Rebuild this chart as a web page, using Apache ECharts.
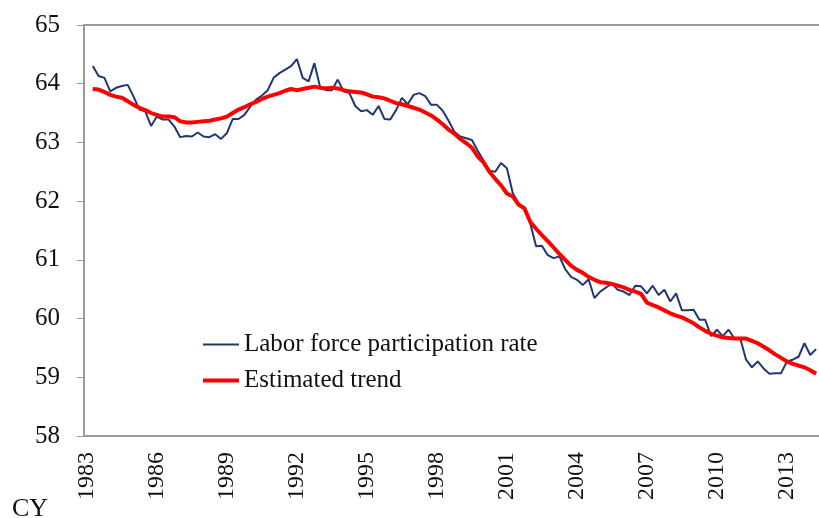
<!DOCTYPE html>
<html>
<head>
<meta charset="utf-8">
<script src="https://cdn.jsdelivr.net/npm/echarts@6/dist/echarts.min.js"></script>
<style>
    html,body{margin:0;padding:0;background:#fff;}
    #chart{width:819px;height:518px;}
</style>
</head>
<body>
<div id="chart"></div>
<script>
/*
 * 労働力率と推計トレンド (四半期)
 */
var startYear=1983;
var endYear=2014;
var lastQuarter=2;

// 1983Q1 は欠測 (1983Q2 から)
var participationRate=[
    null,64.30,64.13,64.10,
    63.87,63.93,63.96,63.98,
    63.78,63.56,63.53,63.28,
    63.44,63.39,63.39,63.27,
    63.09,63.11,63.10,63.17,
    63.10,63.09,63.14,63.06,
    63.16,63.40,63.40,63.47,
    63.61,63.73,63.80,63.89,
    64.10,64.18,64.24,64.30,
    64.42,64.10,64.04,64.35,
    63.93,63.89,63.89,64.07,
    63.87,63.84,63.62,63.53,
    63.55,63.47,63.62,63.40,
    63.39,63.55,63.76,63.65,
    63.81,63.84,63.79,63.64,
    63.64,63.54,63.37,63.18,
    63.10,63.07,63.04,62.86,
    62.69,62.52,62.50,62.65,
    62.56,62.14,61.96,61.88,
    61.62,61.23,61.24,61.08,
    61.03,61.06,60.84,60.71,
    60.66,60.57,60.67,60.35,
    60.46,60.53,60.60,60.49,
    60.46,60.40,60.56,60.55,
    60.43,60.56,60.40,60.49,
    60.29,60.43,60.14,60.14,
    60.15,59.98,59.98,59.70,
    59.81,59.70,59.81,59.66,
    59.66,59.30,59.17,59.27,
    59.15,59.06,59.07,59.07,
    59.27,59.30,59.35,59.58,
    59.38,59.48
];
var estimatedTrend=[
    null,63.91,63.90,63.86,
    63.81,63.78,63.76,63.70,
    63.64,63.59,63.55,63.50,
    63.47,63.44,63.44,63.43,
    63.36,63.34,63.34,63.35,
    63.36,63.37,63.39,63.41,
    63.44,63.50,63.56,63.60,
    63.65,63.69,63.74,63.78,
    63.81,63.84,63.88,63.91,
    63.89,63.91,63.93,63.95,
    63.93,63.92,63.93,63.92,
    63.89,63.87,63.86,63.85,
    63.82,63.78,63.77,63.75,
    63.71,63.67,63.65,63.62,
    63.59,63.56,63.51,63.46,
    63.39,63.31,63.22,63.15,
    63.06,62.99,62.91,62.76,
    62.66,62.50,62.38,62.27,
    62.13,62.08,61.94,61.88,
    61.65,61.53,61.42,61.32,
    61.21,61.10,61.00,60.90,
    60.83,60.78,60.71,60.66,
    60.62,60.61,60.59,60.56,
    60.53,60.49,60.46,60.42,
    60.27,60.23,60.19,60.14,
    60.09,60.05,60.02,59.97,
    59.92,59.85,59.79,59.74,
    59.71,59.68,59.67,59.66,
    59.66,59.66,59.62,59.58,
    59.52,59.46,59.39,59.33,
    59.27,59.23,59.20,59.17,
    59.12,59.06
];
var seriesNames=['Labor force participation rate','Estimated trend'];

// カテゴリ (四半期)
var quarters=[];
for(var y=startYear;y<=endYear;y++){
    for(var q=1;q<=4;q++){
        if(y===endYear&&q>lastQuarter){
            break;
        };
        quarters.push(y+'Q'+q);
    };
};

var font='"Liberation Serif","Times New Roman",serif';
var axisGray='#9a9a9a';
var blue='#1f3872';
var red='#ff0000';

var myChart=echarts.init(document.getElementById('chart'));
myChart.setOption({
    animation:false,
    backgroundColor:'#fff',
    textStyle:{
        fontFamily:font
    },
    grid:{
        left:84,
        right:0,
        top:25,
        bottom:82,
        outerBoundsMode:'none'
    },
    legend:{
        orient:'vertical',
        left:198,
        top:327,
        itemWidth:36,
        itemHeight:14,
        itemGap:11,
        textStyle:{
            fontFamily:font,
            fontSize:25,
            color:'#111'
        },
        data:[
            {name:seriesNames[0],icon:'path://M0 0H36V2H0Z'},
            {name:seriesNames[1],icon:'path://M0 0H36V4H0Z'}
        ]
    },
    xAxis:[
        {
            type:'category',
            data:quarters,
            boundaryGap:true,
            axisLine:{
                lineStyle:{color:axisGray,width:2}
            },
            axisTick:{
                inside:true,
                length:6,
                interval:3,
                lineStyle:{color:axisGray,width:1}
            },
            axisLabel:{
                rotate:90,
                margin:16,
                fontFamily:font,
                fontSize:24,
                color:'#111',
                interval:function(index){
                    return index%12===0;
                },
                formatter:function(value){
                    return value.slice(0,4);
                }
            }
        },
        {
            type:'category',
            data:quarters,
            position:'top',
            axisLine:{
                lineStyle:{color:axisGray,width:2}
            },
            axisTick:{show:false},
            axisLabel:{show:false}
        }
    ],
    yAxis:{
        type:'value',
        min:58,
        max:65,
        interval:1,
        axisLine:{
            show:true,
            lineStyle:{color:axisGray,width:2}
        },
        axisTick:{
            show:true,
            length:7,
            lineStyle:{color:axisGray,width:1}
        },
        splitLine:{show:false},
        axisLabel:{
            margin:24,
            fontFamily:font,
            fontSize:25,
            color:'#111'
        }
    },
    series:[
        {
            name:seriesNames[0],
            type:'line',
            data:participationRate,
            symbol:'none',
            z:2,
            lineStyle:{color:blue,width:2},
            itemStyle:{color:blue}
        },
        {
            name:seriesNames[1],
            type:'line',
            data:estimatedTrend,
            symbol:'none',
            z:3,
            lineStyle:{color:red,width:4},
            itemStyle:{color:red}
        }
    ],
    graphic:[
        {
            type:'text',
            left:12,
            top:496,
            style:{
                text:'CY',
                fontFamily:font,
                fontSize:26,
                fill:'#111'
            }
        }
    ]
});
</script>
</body>
</html>
